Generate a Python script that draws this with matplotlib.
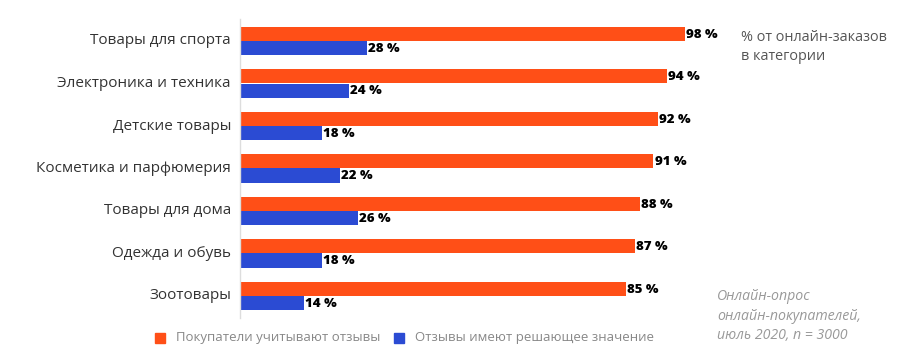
import matplotlib.pyplot as plt
import numpy as np

categories = ["Товары для спорта", "Электроника и техника", "Детские товары",
              "Косметика и парфюмерия", "Товары для дома", "Одежда и обувь", "Зоотовары"]
consider = [98, 94, 92, 91, 88, 87, 85]
decisive = [28, 24, 18, 22, 26, 18, 14]

series_names = ["Покупатели учитывают отзывы", "Отзывы имеют решающее значение"]
note_top = "% от онлайн-заказов\nв категории"
note_bottom = "Онлайн-опрос\nонлайн-покупателей,\nиюль 2020, n = 3000"

orange = "#FF4F17"
blue = "#2B4BD3"
font = "Open Sans"

fig = plt.figure(figsize=(9, 3.53), dpi=100)
ax = fig.add_axes([240 / 900, 0, 1 - 240 / 900, 1])

y = np.arange(len(categories))
h = 0.33
ax.barh(y - h / 2, consider, height=h, color=orange)
ax.barh(y + h / 2, decisive, height=h, color=blue)

ax.set_xlim(0, 660 / 4.54)
ax.set_ylim(353 / 42.5 - 41 / 42.5, -41 / 42.5)

for i in range(len(categories)):
    ax.text(consider[i] + 0.3, y[i] - h / 2 + 0.02, f"{consider[i]} %", va="center", ha="left",
            fontsize=9.5, fontweight="heavy", family=font, color="black")
    ax.text(decisive[i] + 0.3, y[i] + h / 2 + 0.02, f"{decisive[i]} %", va="center", ha="left",
            fontsize=9.5, fontweight="heavy", family=font, color="black")
    ax.text(-2, y[i], categories[i], va="center", ha="right", fontsize=11,
            family=font, color="#333333")

# thin axis line
ax.plot([0, 0], [-0.52, 6.52], color="#dddddd", lw=1, clip_on=False)

for s in ax.spines.values():
    s.set_visible(False)
ax.set_xticks([])
ax.set_yticks([])

fig.text(741 / 900, 1 - 47 / 353, note_top, ha="left", va="center", fontsize=10.4,
         family=font, color="#555555", linespacing=1.3)
fig.text(717 / 900, 1 - 316 / 353, note_bottom, ha="left", va="center", fontsize=10.2,
         family=font, color="#999999", style="italic", linespacing=1.4)

# legend
fig.patches.append(plt.Rectangle((155 / 900, 1 - 343 / 353), 10 / 900, 10 / 353,
                                 transform=fig.transFigure, color=orange))
fig.text(176 / 900, 1 - 338 / 353, series_names[0], ha="left", va="center", fontsize=9.5,
         family=font, color="#888888")
fig.patches.append(plt.Rectangle((394 / 900, 1 - 343 / 353), 10 / 900, 10 / 353,
                                 transform=fig.transFigure, color=blue))
fig.text(415 / 900, 1 - 338 / 353, series_names[1], ha="left", va="center", fontsize=9.5,
         family=font, color="#888888")

fig.savefig("out.png", dpi=100)
